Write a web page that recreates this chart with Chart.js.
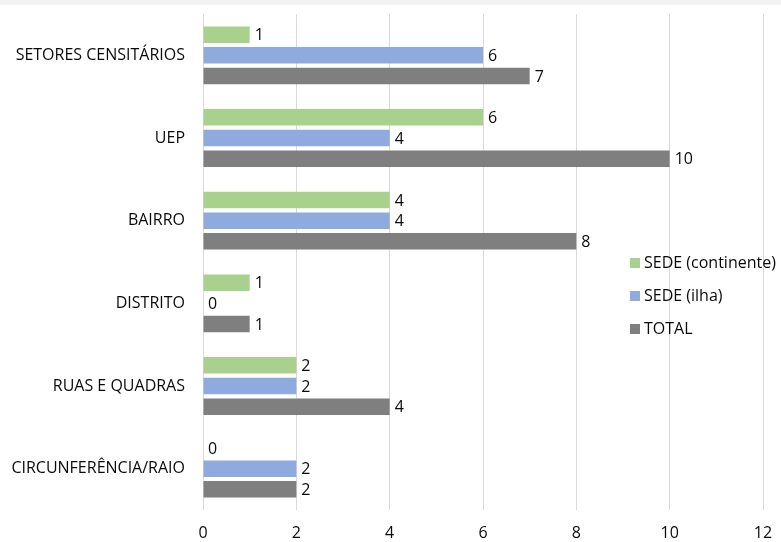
<!DOCTYPE html>
<html>
<head>
<meta charset="utf-8">
<script src="https://cdn.jsdelivr.net/npm/chart.js@4/dist/chart.umd.min.js"></script>
<style>
  html, body { margin: 0; padding: 0; background: #fff; }
  #wrap { position: relative; width: 781px; height: 542px; }
  #band { position: absolute; left: 0; top: 0; width: 781px; height: 5px; background: #f2f2f2; }
  #legend { position: absolute; left: 630px; top: 251px; font-family: "Open Sans", sans-serif; font-size: 16px; color: #0a0a0a; }
  #legend div { height: 33px; line-height: 22px; white-space: nowrap; }
  #legend span.box { display: inline-block; width: 10px; height: 10px; margin-right: 4px; vertical-align: 0px; }
</style>
</head>
<body>
<div id="wrap">
  <canvas id="chart" width="781" height="542"></canvas>
  <div id="band"></div>
  <div id="legend"></div>
</div>
<script>
const categories = ['SETORES CENSITÁRIOS', 'UEP', 'BAIRRO', 'DISTRITO', 'RUAS E QUADRAS', 'CIRCUNFERÊNCIA/RAIO'];
const continente = [1, 6, 4, 1, 2, 0];
const ilha = [6, 4, 4, 0, 2, 2];
const total = [7, 10, 8, 1, 4, 2];
const seriesNames = ['SEDE (continente)', 'SEDE (ilha)', 'TOTAL'];
const colors = ['#a9d18e', '#8faadc', '#7f7f7f'];
const fontFamily = '"Open Sans", sans-serif';
const textColor = '#0a0a0a';

// value labels at the end of each bar
const valueLabels = {
    id: 'valueLabels',
    afterDatasetsDraw(chart) {
        const c = chart.ctx;
        c.save();
        c.font = '16px ' + fontFamily;
        c.fillStyle = textColor;
        c.textAlign = 'left';
        c.textBaseline = 'middle';
        chart.data.datasets.forEach((ds, i) => {
            chart.getDatasetMeta(i).data.forEach((bar, j) => {
                c.fillText(ds.data[j], bar.x + 5, bar.y + 1);
            });
        });
        c.restore();
    }
};

const ctx = document.getElementById('chart').getContext('2d');
const chart = new Chart(ctx, {
    type: 'bar',
    data: {
        labels: categories,
        datasets: [
            { label: seriesNames[0], data: continente, backgroundColor: colors[0] },
            { label: seriesNames[1], data: ilha, backgroundColor: colors[1] },
            { label: seriesNames[2], data: total, backgroundColor: colors[2] }
        ]
    },
    options: {
        indexAxis: 'y',
        responsive: false,
        animation: false,
        datasets: {
            bar: { categoryPercentage: 0.75, barPercentage: 0.8 }
        },
        layout: { padding: { top: 14, right: 18, left: 0, bottom: 0 } },
        plugins: {
            legend: { display: false },
            tooltip: { enabled: false }
        },
        scales: {
            x: {
                min: 0,
                max: 12,
                ticks: {
                    stepSize: 2,
                    padding: 14,
                    color: textColor,
                    font: { family: fontFamily, size: 16 }
                },
                grid: { color: '#d9d9d9', drawTicks: false },
                border: { display: false },
                afterFit(axis) {
                    axis.height = 32;
                    axis.paddingLeft = 0;
                    axis.paddingRight = 0;
                }
            },
            y: {
                ticks: {
                    padding: 18,
                    color: textColor,
                    font: { family: fontFamily, size: 16 }
                },
                grid: { display: false, drawTicks: false },
                border: { display: false },
                afterFit(axis) {
                    axis.width = 203;
                    axis.paddingTop = 0;
                    axis.paddingBottom = 0;
                }
            }
        }
    },
    plugins: [valueLabels]
});

// legend sits on top of the plot, like the original
const legend = document.getElementById('legend');
seriesNames.forEach((name, i) => {
    const row = document.createElement('div');
    row.innerHTML = '<span class="box" style="background:' + colors[i] + '"></span>' + name;
    legend.appendChild(row);
});
</script>
</body>
</html>
